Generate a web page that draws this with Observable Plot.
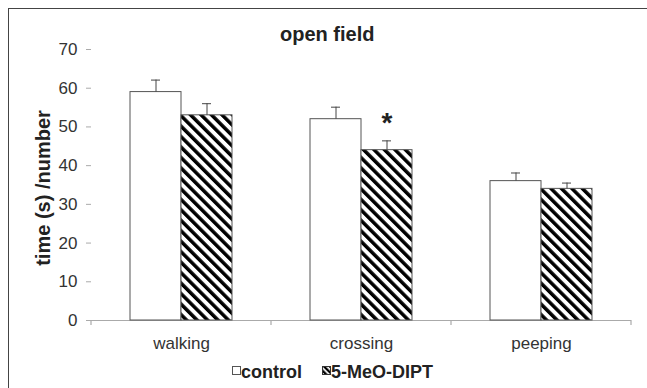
<!DOCTYPE html>
<html>
<head>
<meta charset="utf-8">
<script src="https://cdn.jsdelivr.net/npm/d3@7"></script>
<script src="https://cdn.jsdelivr.net/npm/@observablehq/plot@0.6"></script>
<style>
  html, body { margin: 0; padding: 0; background: #fff; overflow: hidden; }
  body { width: 647px; height: 388px; position: relative; font-family: "Liberation Sans", Arial, sans-serif; }
  #frame { position: absolute; left: 8px; top: 8px; width: 639px; height: 380px; border-left: 1px solid #444; border-top: 1px solid #444; box-sizing: border-box; }
  #chart { position: absolute; left: 0; top: 0; }
  #title { position: absolute; left: 280px; top: 24px; font-size: 20px; line-height: 20px; font-weight: bold; color: #222; white-space: nowrap; }
  #ylabel { position: absolute; left: 43px; top: 188px; font-size: 20px; line-height: 20px; font-weight: bold; color: #222; white-space: nowrap; transform: translate(-50%, -50%) rotate(-90deg); }
  .leg { position: absolute; top: 363px; font-size: 18px; line-height: 18px; font-weight: bold; color: #222; white-space: nowrap; }
  .box { position: absolute; top: 366px; width: 9px; height: 9px; }
</style>
</head>
<body>
<div id="frame"></div>
<div id="chart"></div>
<div id="title">open field</div>
<div id="ylabel">time (s) /number</div>
<svg class="box" style="left:232px" width="9" height="9"><rect x="0.5" y="0.5" width="8" height="8" fill="#fff" stroke="#555"/></svg>
<div class="leg" style="left:241px">control</div>
<svg class="box" style="left:322px" width="9" height="9">
  <defs><pattern id="hatchSmall" patternUnits="userSpaceOnUse" width="4" height="4" patternTransform="rotate(-45)"><rect x="0" y="0" width="2.3" height="4" fill="#000"/></pattern></defs>
  <rect x="0.5" y="0.5" width="8" height="8" fill="url(#hatchSmall)" stroke="#333"/></svg>
<div class="leg" style="left:331px">5-MeO-DIPT</div>
<script>
const categories = ["walking", "crossing", "peeping"];
const groups = ["control", "5-MeO-DIPT"];
const controlMeans = [59, 52, 36];
const controlSEM = [3.1, 3.1, 2.1];
const drugMeans = [53, 44, 34];
const drugSEM = [3.0, 2.4, 1.5];
const yTicks = [0, 10, 20, 30, 40, 50, 60, 70];
const significantDrug = ["crossing"];

const rows = categories.flatMap((c, i) => [
  {category: c, group: groups[0], mean: controlMeans[i], sem: controlSEM[i]},
  {category: c, group: groups[1], mean: drugMeans[i], sem: drugSEM[i]}
]);
const controlRows = rows.filter(d => d.group === groups[0]);
const drugRows = rows.filter(d => d.group === groups[1]);
const sigRows = drugRows.filter(d => significantDrug.includes(d.category));

function hatchDefs() {
  const ns = "http://www.w3.org/2000/svg";
  const defs = document.createElementNS(ns, "defs");
  const p = document.createElementNS(ns, "pattern");
  p.setAttribute("id", "hatch");
  p.setAttribute("patternUnits", "userSpaceOnUse");
  p.setAttribute("width", "7.4");
  p.setAttribute("height", "7.4");
  p.setAttribute("patternTransform", "rotate(-45)");
  const bg = document.createElementNS(ns, "rect");
  bg.setAttribute("width", "7.4"); bg.setAttribute("height", "7.4"); bg.setAttribute("fill", "#fff");
  const r = document.createElementNS(ns, "rect");
  r.setAttribute("width", "3.5"); r.setAttribute("height", "7.4"); r.setAttribute("fill", "#000");
  p.appendChild(bg); p.appendChild(r);
  defs.appendChild(p);
  return defs;
}

const chart = Plot.plot({
  width: 647,
  height: 355,
  marginTop: 49,
  marginBottom: 35,
  marginLeft: 91,
  marginRight: 16,
  style: {fontFamily: "'Liberation Sans', Arial, sans-serif", fontSize: "17px", color: "#333", background: "transparent", overflow: "visible"},
  fx: {domain: categories, padding: 0, label: null, axis: null},
  x: {domain: groups, paddingInner: 0, paddingOuter: 0.75, axis: null},
  y: {domain: [0, 70], axis: null},
  marks: [
    hatchDefs,
    Plot.axisY({ticks: yTicks, tickSize: 5, tickPadding: 9, stroke: "#aaa", fill: "#333", label: null, fontSize: 17, line: true}),
    Plot.axisFx({anchor: "bottom", tickSize: 0, tickPadding: 16, label: null, fontSize: 17, fill: "#333"}),
    Plot.ruleY([0], {stroke: "#aaa", strokeWidth: 1.2}),
    Plot.barY(controlRows, {fx: "category", x: "group", y: "mean", fill: "#fff", stroke: "#555", strokeWidth: 1}),
    Plot.barY(drugRows, {fx: "category", x: "group", y: "mean", fill: "url(#hatch)", stroke: "#555", strokeWidth: 1}),
    Plot.ruleX(rows, {fx: "category", x: "group", y1: "mean", y2: d => d.mean + d.sem, stroke: "#444"}),
    Plot.tickY(rows, {fx: "category", x: "group", y: d => d.mean + d.sem, insetLeft: 21, insetRight: 21, stroke: "#444"}),
    Plot.text(sigRows, {fx: "category", x: "group", y: d => d.mean + d.sem, text: () => "*", fontSize: 28, fontWeight: "bold", fill: "#222", dy: -18})
  ]
});

// Excel-style category boundary ticks on the x axis, from Plot's own scales
const fxs = chart.scale("fx");
const ys = chart.scale("y");
const y0 = ys.apply(0);
const edges = categories.map(c => fxs.apply(c)).concat([fxs.apply(categories[categories.length - 1]) + fxs.bandwidth]);
const g = d3.select(chart).append("g").attr("stroke", "#aaa").attr("stroke-width", 1.2);
edges.forEach(x => g.append("line").attr("x1", x).attr("x2", x).attr("y1", y0).attr("y2", y0 + 5));

document.getElementById("chart").appendChild(chart);
</script>
</body>
</html>
